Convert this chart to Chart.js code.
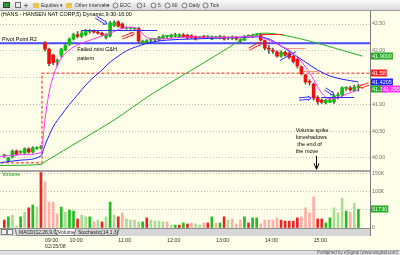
<!DOCTYPE html>
<html lang="en">
<head>
    <meta charset="UTF-8">
    <title>HANS 5 min - 02/15/08</title>
    <script src="https://cdn.jsdelivr.net/npm/chart.js"></script>
    <style>
        html, body { margin: 0; padding: 0; background: #FFFFEA; overflow: hidden; }
        canvas { display: block; }
    </style>
</head>
<body>
    <canvas id="hansChart" width="400" height="255"></canvas>

    <script>
        // 5-minute bars. index 0 = first bar of 02/15/08 (9:30), negative = end of previous session
        const firstBar = -10;

        const openPx = [40.04, 39.95, 40.02, 40.13, 40.11, 40.09, 40.17, 40.11, 40.18, 40.19,
            42.15, 42.03, 41.92, 41.80, 41.92, 42.02, 42.12, 42.22, 42.30, 42.27,
            42.30, 42.36, 42.36, 42.35, 42.33, 42.25, 42.28, 42.47, 42.54, 42.50,
            42.42, 42.42, 42.41, 42.42, 42.15, 42.16, 42.20, 42.21, 42.21, 42.23,
            42.27, 42.26, 42.28, 42.26, 42.30, 42.29, 42.28, 42.27, 42.25, 42.27,
            42.26, 42.22, 42.25, 42.24, 42.26, 42.24, 42.23, 42.25, 42.18, 42.20,
            42.27, 42.26, 42.29, 42.30, 42.19, 42.04, 42.01, 41.98, 41.90, 41.97,
            41.95, 41.90, 41.84, 41.70, 41.55, 41.42, 41.38, 41.13, 41.08, 41.03,
            41.04, 41.05, 41.16, 41.18, 41.30, 41.31, 41.26, 41.32];
        const highPx = [40.07, 40.01, 40.15, 40.15, 40.13, 40.19, 40.19, 40.21, 40.21, 40.23,
            42.17, 42.05, 41.94, 41.85, 42.05, 42.12, 42.24, 42.33, 42.36, 42.38,
            42.40, 42.40, 42.39, 42.37, 42.35, 42.32, 42.55, 42.56, 42.56, 42.52,
            42.45, 42.44, 42.43, 42.44, 42.20, 42.21, 42.22, 42.23, 42.27, 42.30,
            42.29, 42.31, 42.33, 42.32, 42.32, 42.31, 42.30, 42.28, 42.27, 42.29,
            42.28, 42.28, 42.27, 42.29, 42.28, 42.26, 42.28, 42.27, 42.23, 42.29,
            42.30, 42.31, 42.32, 42.32, 42.20, 42.10, 42.05, 42.00, 42.00, 41.99,
            41.97, 41.92, 41.86, 41.72, 41.56, 41.46, 41.40, 41.16, 41.10, 41.10,
            41.12, 41.18, 41.22, 41.33, 41.33, 41.34, 41.36, 41.38];
        const lowPx = [40.01, 39.93, 40.00, 40.05, 40.08, 40.07, 40.09, 40.09, 40.16, 40.17,
            42.00, 41.72, 41.74, 41.72, 41.88, 42.00, 42.10, 42.20, 42.24, 42.25,
            42.28, 42.33, 42.33, 42.31, 42.28, 42.22, 42.26, 42.45, 42.44, 42.41,
            42.40, 42.40, 42.39, 42.14, 42.12, 42.14, 42.17, 42.18, 42.19, 42.22,
            42.24, 42.24, 42.26, 42.25, 42.25, 42.22, 42.23, 42.20, 42.23, 42.23,
            42.24, 42.21, 42.23, 42.22, 42.20, 42.21, 42.21, 42.20, 42.14, 42.19,
            42.25, 42.25, 42.27, 42.18, 42.02, 41.95, 41.95, 41.88, 41.88, 41.90,
            41.85, 41.77, 41.68, 41.55, 41.38, 41.36, 41.08, 41.00, 41.02, 41.01,
            41.03, 41.02, 41.10, 41.16, 41.26, 41.25, 41.24, 41.25];
        const closePx = [40.05, 40.00, 40.13, 40.07, 40.11, 40.17, 40.11, 40.19, 40.19, 40.20,
            42.03, 41.76, 41.78, 41.82, 42.03, 42.10, 42.22, 42.30, 42.27, 42.33,
            42.38, 42.37, 42.35, 42.33, 42.30, 42.30, 42.52, 42.53, 42.46, 42.43,
            42.43, 42.42, 42.41, 42.18, 42.18, 42.19, 42.20, 42.21, 42.25, 42.28,
            42.27, 42.29, 42.28, 42.30, 42.26, 42.24, 42.25, 42.22, 42.25, 42.25,
            42.26, 42.26, 42.25, 42.27, 42.22, 42.24, 42.26, 42.22, 42.21, 42.27,
            42.27, 42.29, 42.29, 42.20, 42.05, 42.03, 41.99, 41.90, 41.97, 41.92,
            41.88, 41.80, 41.72, 41.57, 41.42, 41.41, 41.12, 41.05, 41.04, 41.08,
            41.08, 41.16, 41.17, 41.31, 41.31, 41.27, 41.32, 41.33];

        const volume = [22000, 31000, 36000, 6000, 31000, 44000, 56000, 64000, 58000, 154000,
            128000, 72000, 72000, 39000, 58000, 44000, 50000, 47000, 25000, 36000,
            31000, 31000, 17000, 22000, 17000, 31000, 72000, 36000, 31000, 42000,
            25000, 22000, 22000, 17000, 17000, 28000, 22000, 19000, 19000, 17000,
            17000, 8000, 8000, 8000, 14000, 11000, 14000, 11000, 8000, 14000,
            14000, 31000, 14000, 14000, 31000, 22000, 25000, 11000, 22000, 31000,
            14000, 28000, 28000, 11000, 22000, 22000, 22000, 28000, 22000, 19000,
            19000, 19000, 28000, 31000, 56000, 42000, 86000, 25000, 25000, 14000,
            28000, 56000, 42000, 83000, 47000, 44000, 69000, 51730];
        // g = up, G = up (light), r = down, R = down (light)
        const volumeKind = ('rgGGgGrgGr' + 'RRRRgGggrG' + 'GgRGrGgGrR' + 'GGGGgrGGGG' + 'RGgrgrRGGR' +
            'rgRgrGRRRg' + 'rggRRRRRrr' + 'rrrRRRRrrg' + 'gGGGgRGg').split('');

        // moving averages
        const magIdx = [-11, -6, -1, 0, 1, 2, 3, 4, 5, 7, 10, 13, 16, 19, 21, 23, 25, 28, 35, 45, 52, 55, 58, 60, 62, 64, 66, 68, 70, 72, 74, 77];
        const magVal = [40.03, 40.06, 40.10, 40.72, 41.22, 41.52, 41.72, 41.86, 41.95, 42.07, 42.17, 42.25, 42.33, 42.42, 42.44, 42.40, 42.25, 42.22, 42.26, 42.25, 42.27, 42.20, 42.09, 42.01, 41.88, 41.70, 41.46, 41.21, 41.10, 41.12, 41.19, 41.27];
        const blueIdx = [-11, -6, -1, 0, 2, 4, 6, 8, 10, 12, 14, 16, 18, 20, 23, 26, 30, 36, 44, 52, 55, 58, 61, 64, 67, 70, 73, 77];
        const blueVal = [39.91, 39.96, 40.04, 40.24, 40.58, 40.80, 41.00, 41.18, 41.36, 41.51, 41.64, 41.79, 41.90, 42.00, 42.09, 42.16, 42.20, 42.22, 42.24, 42.26, 42.22, 42.09, 41.94, 41.79, 41.64, 41.53, 41.47, 41.42];
        const greenIdx = [-11, -1, 0, 9, 17, 26, 36, 43, 50, 54, 58, 63, 68, 73, 78];
        const greenVal = [39.86, 39.88, 39.93, 40.34, 40.71, 41.18, 41.64, 41.96, 42.27, 42.33, 42.30, 42.22, 42.12, 42.01, 41.90];

        const prevRef = 39.91;      // dashed level, previous session
        const todayRef = 41.58;     // dashed level, today
        const sessionBreak = -0.75;
        const pivotR2 = 42.14;

        const tickIdx = [0, 6, 18, 30, 42, 54, 66];
        const tickLabels = ['09:00', '10:00', '11:00', '12:00', '13:00', '14:00', '15:00'];
        const dateLabel = '02/15/08';
        const priceTicks = [40, 40.5, 41, 41.5, 42, 42.5];
        const volumeTicks = [0, 50000, 100000, 150000];

        const xMin = -11.06, xMax = 79.85;
        const yMin = 39.757, yMax = 42.743;
        const volMax = 158300;

        const barIdx = openPx.map((_, k) => firstBar + k);
        const FONT = '"Liberation Sans", Arial, sans-serif';

        // hand drawn marks on the chart
        const segments = [
            { i1: 9.1, p1: 42.39, i2: 27.5, p2: 42.39, color: '#3030FF' },
            { i1: 53.4, p1: 42.32, i2: 58.5, p2: 42.32, color: '#FF2020' },
            { i1: 59.5, p1: 42.05, i2: 64.0, p2: 42.05, color: '#FF9080' },
            { i1: 63.4, p1: 41.62, i2: 67.1, p2: 41.62, color: '#FF9080' },
            { i1: 67.8, p1: 41.14, i2: 76.0, p2: 41.14, color: '#3030FF' },
            { i1: 57.7, p1: 41.83, i2: 61.7, p2: 42.00, color: '#3030FF' }
        ];
        const arrows = [
            { i1: 12.5, p1: 42.63, i2: 15.2, p2: 42.50, color: '#3030FF' },
            { i1: 18.9, p1: 42.24, i2: 21.9, p2: 42.33, color: '#FF2020' },
            { i1: 50.1, p1: 42.03, i2: 53.1, p2: 42.15, color: '#FF2020' },
            { i1: 62.4, p1: 41.10, i2: 65.4, p2: 41.12, color: '#3030FF' },
            { i1: 68.8, p1: 41.29, i2: 71.0, p2: 41.18, color: '#3030FF' },
            { i1: 79.6, p1: 41.38, i2: 77.2, p2: 41.32, color: '#FF2020' }
        ];
        const notes = [
            { i: 7.9, p: 42.02, text: 'Failed mini C&H' },
            { i: 7.9, p: 41.86, text: 'pattern' },
            { i: 61.6, p: 40.52, text: 'Volume spike' },
            { i: 61.6, p: 40.38, text: 'foreshadows' },
            { i: 62.0, p: 40.25, text: 'the end of' },
            { i: 61.6, p: 40.12, text: 'the move' }
        ];

        function drawArrow(c, x1, y1, x2, y2, color) {
            const a = Math.atan2(y2 - y1, x2 - x1);
            const nx = -Math.sin(a) * 1.2, ny = Math.cos(a) * 1.2;
            const ex = x2 - Math.cos(a) * 2, ey = y2 - Math.sin(a) * 2;
            c.strokeStyle = color;
            c.lineWidth = 1;
            c.beginPath();
            c.moveTo(x1 + nx, y1 + ny); c.lineTo(ex + nx, ey + ny);
            c.moveTo(x1 - nx, y1 - ny); c.lineTo(ex - nx, ey - ny);
            c.moveTo(x2, y2); c.lineTo(x2 - 4 * Math.cos(a - 0.6), y2 - 4 * Math.sin(a - 0.6));
            c.moveTo(x2, y2); c.lineTo(x2 - 4 * Math.cos(a + 0.6), y2 - 4 * Math.sin(a + 0.6));
            c.stroke();
        }

        function drawTag(c, y, text, bg, x) {
            c.font = '5.5px ' + FONT;
            const w = c.measureText(text).width + 2;
            c.fillStyle = bg;
            c.fillRect(x, Math.round(y) - 3.5, w, 7);
            c.fillStyle = '#FFFFFF';
            c.textAlign = 'left';
            c.textBaseline = 'middle';
            c.fillText(text, x + 1, Math.round(y));
        }

        const esignalPlugin = {
            id: 'esignal',
            beforeDraw(chart) {
                const c = chart.ctx;
                c.save();
                c.fillStyle = '#FFFFEA';
                c.fillRect(0, 0, chart.width, chart.height);
                c.restore();
            },
            afterDatasetsDraw(chart) {
                const c = chart.ctx, xs = chart.scales.x, ys = chart.scales.y, yv = chart.scales.yv;
                const area = chart.chartArea;
                const X = i => xs.getPixelForValue(i), Y = p => ys.getPixelForValue(p);
                c.save();
                c.fillStyle = '#A4A4A4';
                c.fillRect(area.left, yv.top - 1, area.right - area.left, 2);

                c.lineWidth = 1;
                segments.forEach(s => {
                    c.strokeStyle = s.color;
                    c.beginPath();
                    c.moveTo(X(s.i1), Math.round(Y(s.p1)) + 0.5);
                    c.lineTo(X(s.i2), Math.round(Y(s.p2)) + 0.5);
                    c.stroke();
                });
                arrows.forEach(a => drawArrow(c, X(a.i1), Y(a.p1), X(a.i2), Y(a.p2), a.color));

                // down arrow under the note
                const ax = Math.round(X(66.6)) + 0.5;
                c.strokeStyle = '#000000';
                c.beginPath();
                c.moveTo(ax, Y(40.04)); c.lineTo(ax, Y(39.79));
                c.moveTo(ax - 2.5, Y(39.90)); c.lineTo(ax, Y(39.79)); c.lineTo(ax + 2.5, Y(39.90));
                c.stroke();

                c.fillStyle = '#000000';
                c.font = '5.5px ' + FONT;
                c.textAlign = 'left';
                c.textBaseline = 'middle';
                notes.forEach(n => c.fillText(n.text, X(n.i), Y(n.p)));
                c.fillText('(HANS - HANSEN NAT CORP,5) Dynamic,9:30-16:00', 1, area.top + 3.5);
                c.fillText('Pivot Point R2', 2, Y(pivotR2) - 4);
                c.fillStyle = '#119911';
                c.fillText('Volume', 2, yv.top + 3.5);
                c.restore();
            },
            afterDraw(chart) {
                const c = chart.ctx, ys = chart.scales.y, yv = chart.scales.yv;
                const area = chart.chartArea;
                c.save();
                // axis line continues past the tab strip
                c.fillStyle = '#7A7A7A';
                c.fillRect(area.right, area.bottom, 1, 8);

                // value tags on the price / volume axis
                const tx = area.right + 1;
                drawTag(c, ys.getPixelForValue(greenVal[greenVal.length - 1]), '41.9000', '#22AA22', tx);
                drawTag(c, ys.getPixelForValue(todayRef), '41.58', '#FF2020', tx);
                drawTag(c, ys.getPixelForValue(blueVal[blueVal.length - 1]), '41.4205', '#2020FF', tx);
                const lastY = ys.getPixelForValue(closePx[closePx.length - 1]) + 2;
                drawTag(c, lastY, '41.33', '#22AA22', tx);
                drawTag(c, lastY, '41.2952', '#FF33FF', tx + 11);
                drawTag(c, yv.getPixelForValue(volume[volume.length - 1]), '51730', '#22AA22', tx);

                // toolbar
                const g = c.createLinearGradient(0, 0, 0, 10);
                g.addColorStop(0, '#FAFAFA');
                g.addColorStop(1, '#DADADA');
                c.fillStyle = g;
                c.fillRect(0, 0, 400, 10);
                c.fillStyle = '#9A9A9A';
                c.fillRect(0, 10, 400, 1);
                c.fillStyle = '#2E9A2E';
                c.fillRect(3, 2, 7, 6);
                c.strokeStyle = '#3A3A3A';
                c.lineWidth = 1;
                c.strokeRect(3.5, 2.5, 6, 5);
                c.strokeStyle = '#707070';
                c.strokeRect(15.5, 2.5, 5, 5);
                c.beginPath();
                c.moveTo(24, 5.5); c.lineTo(28, 5.5); c.moveTo(26, 3.5); c.lineTo(26, 7.5);
                c.stroke();
                c.fillStyle = '#E8C850';
                c.fillRect(33, 3, 6, 5);
                c.fillRect(66, 3, 6, 5);
                c.font = '5px ' + FONT;
                c.textBaseline = 'middle';
                c.fillStyle = '#333333';
                [['Equities', 41], ['Other Intervals', 75], ['EOC', 120], ['1', 143], ['5', 158],
                 ['60', 172], ['Daily', 189], ['Tick', 210]].forEach(t => c.fillText(t[0], t[1], 5.5));
                [60, 107].forEach(x => c.fillText('\u25BE', x, 5.5));
                c.strokeStyle = '#777777';
                [115.5, 139.5, 153.5, 167.5, 184.5, 205.5].forEach(x => {
                    c.beginPath(); c.arc(x, 5.5, 2.5, 0, Math.PI * 2); c.stroke();
                });

                // tab strip under the volume pane
                c.fillStyle = '#D6D6D6';
                c.fillRect(0, area.bottom, area.right, 8);
                c.fillStyle = '#8C8C8C';
                c.fillRect(0, area.bottom, area.right, 1);
                c.strokeStyle = '#808080';
                c.fillStyle = '#F2F2F2';
                c.fillRect(1, area.bottom + 1.5, 5, 5);
                c.fillRect(7, area.bottom + 1.5, 5, 5);
                c.strokeRect(1.5, area.bottom + 1.5, 5, 5);
                c.strokeRect(7.5, area.bottom + 1.5, 5, 5);
                c.fillStyle = '#FFFFFF';
                c.beginPath();
                c.moveTo(55, area.bottom + 1); c.lineTo(76, area.bottom + 1);
                c.lineTo(74, area.bottom + 7); c.lineTo(57, area.bottom + 7); c.closePath();
                c.fill();
                c.beginPath();
                [[15, 17], [55, 57], [76, 74], [119, 117]].forEach(s => {
                    c.moveTo(s[0], area.bottom + 1); c.lineTo(s[1], area.bottom + 7.5);
                });
                c.moveTo(17, area.bottom + 7.5); c.lineTo(117, area.bottom + 7.5);
                c.stroke();
                c.fillStyle = '#222222';
                c.font = '5px ' + FONT;
                c.fillText('MACD(12,26,9,C)', 19, area.bottom + 4.2);
                c.fillText('Volume', 58, area.bottom + 4.2);
                c.fillText('Stochastic(14,1,3)', 78, area.bottom + 4.2);

                // footer
                c.fillStyle = '#DEDEDE';
                c.fillRect(0, 250, 400, 5);
                c.fillStyle = '#B0B0B0';
                c.fillRect(0, 250, 400, 1);
                c.fillRect(327, 250, 1, 5);
                c.fillStyle = '#555555';
                c.font = '4.5px ' + FONT;
                c.textAlign = 'right';
                c.fillText('Published by eSignal (www.esignal.com)', 398, 253);
                c.restore();
            }
        };

        Chart.defaults.font.family = FONT;
        Chart.defaults.font.size = 5.5;

        const lineStyle = { type: 'line', yAxisID: 'y', pointRadius: 0, borderWidth: 1, cubicInterpolationMode: 'monotone' };

        const ctx = document.getElementById('hansChart').getContext('2d');
        new Chart(ctx, {
            type: 'bar',
            data: {
                datasets: [
                    Object.assign({}, lineStyle, {
                        label: 'Fast MA', order: 0, borderColor: '#FF33FF',
                        data: magIdx.map((x, k) => ({ x, y: magVal[k] }))
                    }),
                    Object.assign({}, lineStyle, {
                        label: 'Mid MA', order: 0, borderColor: '#2020FF',
                        data: blueIdx.map((x, k) => ({ x, y: blueVal[k] }))
                    }),
                    Object.assign({}, lineStyle, {
                        label: 'Slow MA', order: 0, borderColor: '#22B022',
                        data: greenIdx.map((x, k) => ({ x, y: greenVal[k] }))
                    }),
                    {
                        type: 'bar', label: 'Body', yAxisID: 'y', order: 1, grouped: false,
                        barThickness: 3, minBarLength: 1,
                        data: barIdx.map((x, k) => ({ x, y: [openPx[k], closePx[k]] })),
                        backgroundColor: barIdx.map((x, k) => closePx[k] >= openPx[k] ? '#10C010' : '#EE1010')
                    },
                    {
                        type: 'bar', label: 'Range', yAxisID: 'y', order: 2, grouped: false,
                        barThickness: 1, minBarLength: 1,
                        data: barIdx.map((x, k) => ({ x, y: [lowPx[k], highPx[k]] })),
                        backgroundColor: '#5A5A5A'
                    },
                    Object.assign({}, lineStyle, {
                        label: 'Pivot R2', order: 3, borderColor: '#4848FF', borderWidth: 2,
                        cubicInterpolationMode: 'default',
                        data: [{ x: xMin - 1, y: pivotR2 }, { x: xMax + 1, y: pivotR2 }]
                    }),
                    Object.assign({}, lineStyle, {
                        label: 'Reference', order: 3, borderColor: '#FF6666', borderWidth: 1.5,
                        borderDash: [3, 2], cubicInterpolationMode: 'default',
                        data: [{ x: xMin - 1, y: prevRef }, { x: sessionBreak, y: prevRef },
                               { x: sessionBreak, y: todayRef }, { x: xMax + 1, y: todayRef }]
                    }),
                    {
                        type: 'bar', label: 'Volume', yAxisID: 'yv', order: 4, grouped: false,
                        barThickness: 2,
                        data: barIdx.map((x, k) => ({ x, y: volume[k] })),
                        backgroundColor: volumeKind.map(v => ({ g: '#22BB22', G: '#A8DC98', r: '#EE2222', R: '#FFAFA6' })[v])
                    }
                ]
            },
            options: {
                responsive: false,
                animation: false,
                devicePixelRatio: 1,
                events: [],
                layout: { padding: { top: 11, bottom: 5, left: 0, right: 0 } },
                plugins: { legend: { display: false }, tooltip: { enabled: false } },
                scales: {
                    x: {
                        type: 'linear', min: xMin, max: xMax, offset: false,
                        grid: { display: false, drawTicks: false },
                        border: { display: false },
                        afterBuildTicks: s => { s.ticks = tickIdx.map(v => ({ value: v })); },
                        afterFit: s => { s.height = 22; s.paddingLeft = 0; s.paddingRight = 0; },
                        ticks: {
                            align: 'start', padding: 9, maxRotation: 0, autoSkip: false,
                            color: '#303030', font: { size: 5.3 },
                            callback: (v, k) => k === 0 ? [tickLabels[0], dateLabel] : tickLabels[k]
                        }
                    },
                    y: {
                        type: 'linear', position: 'right', stack: 'panes', stackWeight: 160,
                        min: yMin, max: yMax,
                        afterBuildTicks: s => { s.ticks = priceTicks.map(v => ({ value: v })); },
                        afterFit: s => { s.width = 30; s.paddingTop = 0; s.paddingBottom = 0; },
                        grid: { color: '#C2C2B8', drawTicks: false },
                        border: { display: true, color: '#7A7A7A', dash: [1, 2] },
                        ticks: {
                            padding: 2, color: '#6E6E6E', font: { size: 5.3 },
                            callback: v => v === 41.5 ? '' : v.toFixed(2)
                        }
                    },
                    yv: {
                        type: 'linear', position: 'right', stack: 'panes', stackWeight: 57,
                        min: 0, max: volMax,
                        afterBuildTicks: s => { s.ticks = volumeTicks.map(v => ({ value: v })); },
                        afterFit: s => { s.width = 30; s.paddingTop = 0; s.paddingBottom = 0; },
                        grid: { color: '#C2C2B8', drawTicks: false },
                        border: { display: true, color: '#7A7A7A', dash: [1, 2] },
                        ticks: {
                            padding: 2, color: '#6E6E6E', font: { size: 5.3 },
                            callback: v => v === 0 ? '0' : (v === 50000 ? '' : (v / 1000) + 'K')
                        }
                    }
                }
            },
            plugins: [esignalPlugin]
        });
    </script>
</body>
</html>
